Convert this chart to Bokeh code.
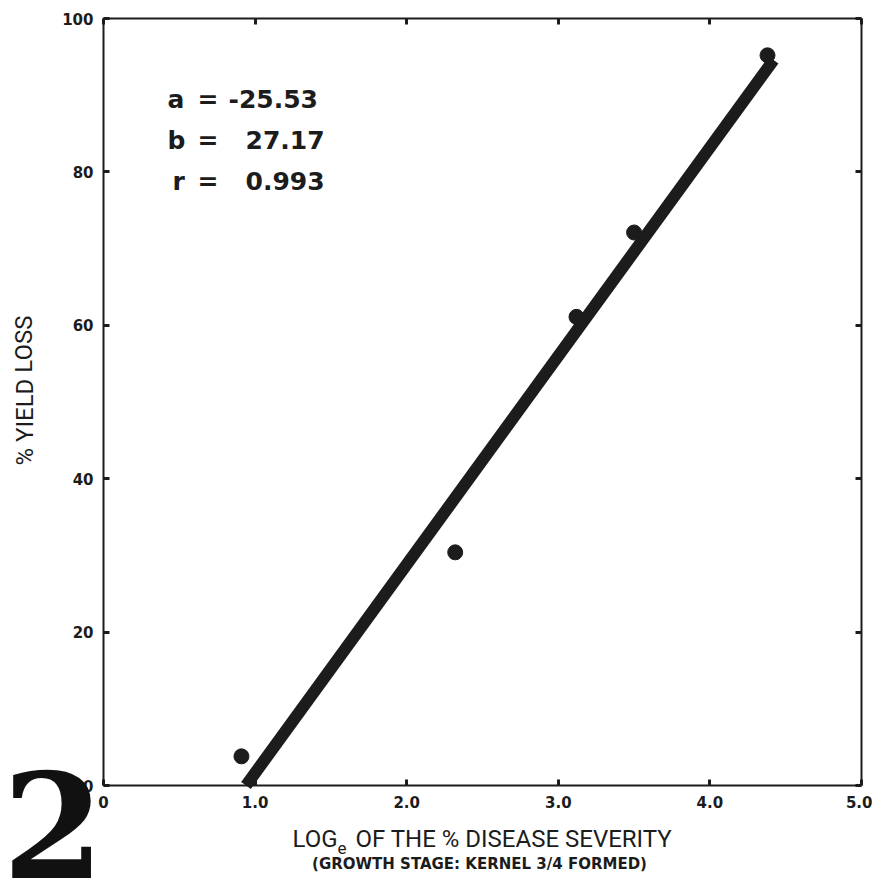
from bokeh.plotting import figure
from bokeh.models import Range1d, LinearAxis, Label, FixedTicker
from bokeh.embed import file_html
from bokeh.resources import INLINE

# data
log_severity = [0.91, 2.32, 3.12, 3.50, 4.38]
yield_loss = [3.8, 30.4, 61.1, 72.1, 95.2]

# regression line end points
fit_x = [0.94, 4.42]
fit_y = [0.0, 94.6]

coef_names = ["a", "b", "r"]
coef_values = ["-25.53", "27.17", "0.993"]

x_ticks = [0, 1, 2, 3, 4, 5]
x_tick_labels = ["0", "1.0", "2.0", "3.0", "4.0", "5.0"]
y_ticks = [0, 20, 40, 60, 80, 100]
y_tick_labels = ["0", "20", "40", "60", "80", "100"]

INK = "#1c1c1c"
TICK_FONT = "DejaVu Sans"
TITLE_FONT = "Roboto"

# the frame spans the whole canvas; the data box (0..5, 0..100) sits inside it
W, H = 872, 878
X0, PX_X = 103.0, 151.6      # pixel of x=0, pixels per x unit
Y0, PX_Y = 785.0, 7.67       # pixel of y=0, pixels per y unit

p = figure(frame_width=W, frame_height=H,
           min_border_left=0, min_border_right=0, min_border_top=0, min_border_bottom=0,
           x_range=Range1d(-X0 / PX_X, (W - X0) / PX_X),
           y_range=Range1d(-(H - Y0) / PX_Y, Y0 / PX_Y),
           output_backend="svg", toolbar_location=None,
           x_axis_location=None, y_axis_location=None)
p.outline_line_color = None
p.xgrid.visible = False
p.ygrid.visible = False
p.background_fill_color = "white"
p.border_fill_color = "white"


def style_axis(ax, ticks, labels, show_labels):
    ax.ticker = FixedTicker(ticks=ticks)
    ax.major_label_overrides = {t: l for t, l in zip(ticks, labels)}
    ax.axis_line_color = INK
    ax.axis_line_width = 2
    ax.major_tick_in = 6
    ax.major_tick_out = 0
    ax.major_tick_line_width = 3
    ax.major_tick_line_color = INK
    ax.minor_tick_line_color = None
    ax.major_label_text_font = TICK_FONT
    ax.major_label_text_font_style = "bold"
    ax.major_label_text_font_size = "15px"
    ax.major_label_standoff = 10
    ax.major_label_text_color = INK if show_labels else None


xb = LinearAxis(fixed_location=0, bounds=(0, 5))
style_axis(xb, x_ticks, x_tick_labels, True)
p.add_layout(xb, "below")
xt = LinearAxis(fixed_location=100, bounds=(0, 5))
style_axis(xt, x_ticks, x_tick_labels, False)
p.add_layout(xt, "above")
yl = LinearAxis(fixed_location=0, bounds=(0, 100))
style_axis(yl, y_ticks, y_tick_labels, True)
p.add_layout(yl, "left")
yr = LinearAxis(fixed_location=5, bounds=(0, 100))
style_axis(yr, y_ticks, y_tick_labels, False)
p.add_layout(yr, "right")

# regression line and points
p.line(fit_x, fit_y, line_width=12, line_color=INK, line_cap="butt")
p.scatter(log_severity, yield_loss, size=15, fill_color=INK, line_color=INK)


def px(xp):
    return (xp - X0) / PX_X


def py(yp):
    return (Y0 - yp) / PX_Y


def label(xp, yp, text, font, size, bold=False, align="left", angle=0.0, color=INK):
    p.add_layout(Label(x=px(xp), y=py(yp), text=text, text_font=font,
                       text_font_style="bold" if bold else "normal",
                       text_font_size=f"{size}px", text_color=color,
                       text_align=align, text_baseline="middle", angle=angle))


# coefficient block (rows centred on the digits' middle)
row_mid = [98.5, 139.5, 180.5]
name_px = [167, 167, 172]
val_px = [228, 245, 245]
for name, val, ym, nx, vx in zip(coef_names, coef_values, row_mid, name_px, val_px):
    label(nx, ym, name, TICK_FONT, 25, bold=True)
    label(197, ym, "=", TICK_FONT, 25, bold=True)
    label(vx, ym, val, TICK_FONT, 25, bold=True)

# y axis title
label(24, 390, "% YIELD LOSS", TITLE_FONT, 24, align="center", angle=1.5708)

# x axis title with subscript
label(337, 838, "LOG", TITLE_FONT, 24, align="right")
label(337, 847, "e", TITLE_FONT, 17)
label(355, 838, "OF THE % DISEASE SEVERITY", TITLE_FONT, 24)
label(479, 863, "(GROWTH STAGE: KERNEL 3/4 FORMED)", TICK_FONT, 15,
      bold=True, align="center")

# figure number
label(2, 824, "2", "DejaVu Serif", 146, bold=True, color="#111111")

open("out.html", "w").write(file_html(p, INLINE))
